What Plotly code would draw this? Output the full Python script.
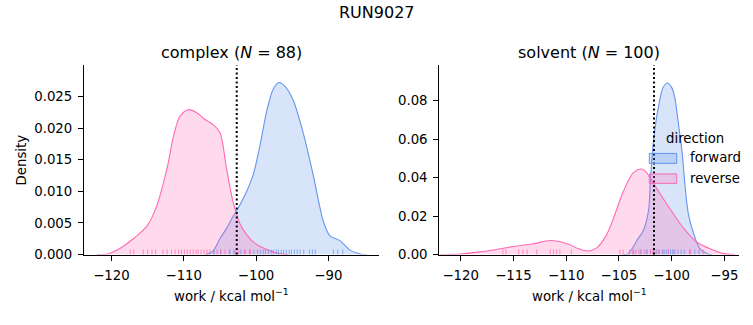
import plotly.graph_objects as go

# ---------------- data ----------------
# complex leg: KDE curves
cx_fwd_x = [-107.0, -106.0, -105.0, -104.0, -103.2, -102.7, -101.5, -100.4, -99.5, -98.5, -97.6, -96.8,
            -96.0, -94.9, -93.5, -92.1, -90.7, -89.8, -88.4, -87.0, -85.6, -84.7]
cx_fwd_y = [0.0, 0.0005, 0.0025, 0.0043, 0.0060, 0.0069, 0.0095, 0.0126, 0.0170, 0.0228, 0.0262, 0.0272,
            0.0266, 0.0245, 0.0193, 0.0126, 0.0053, 0.0030, 0.0022, 0.0007, 0.0001, 0.0]
cx_rev_x = [-122.0, -120.5, -119.8, -118.5, -117.0, -115.1, -113.8, -112.3, -111.4, -110.5, -109.3, -108.2,
            -107.0, -106.0, -105.0, -104.1, -103.2, -102.2, -101.2, -100.4, -99.3, -98.5, -97.0, -95.5]
cx_rev_y = [0.0, 0.0001, 0.0004, 0.0012, 0.0025, 0.0045, 0.0075, 0.0137, 0.0188, 0.0219, 0.0229, 0.0224,
            0.0213, 0.0206, 0.0193, 0.0137, 0.0084, 0.0048, 0.0030, 0.0020, 0.0012, 0.0008, 0.0002, 0.0]

# solvent leg
sv_fwd_x = [-104.6, -104.1, -103.3, -102.7, -102.2, -102.0, -101.7, -101.2, -100.8, -100.4, -100.0, -99.7,
            -99.4, -99.0, -98.7, -98.4, -97.9, -97.3, -96.5, -96.2]
sv_fwd_y = [0.0, 0.0005, 0.0073, 0.0123, 0.0225, 0.0394, 0.0600, 0.0783, 0.0870, 0.0893, 0.0870, 0.0817,
            0.0699, 0.0529, 0.0343, 0.0208, 0.0107, 0.0030, 0.0002, 0.0]
sv_rev_x = [-122.0, -120.0, -118.2, -116.5, -115.0, -113.1, -111.5, -109.9, -108.8, -108.0, -107.1, -106.2,
            -105.5, -104.6, -103.6, -102.8, -102.4, -101.4, -100.2, -98.9, -97.6, -96.0, -95.1, -94.0]
sv_rev_y = [0.0, 0.0003, 0.0014, 0.0028, 0.0042, 0.0056, 0.0073, 0.0056, 0.0030, 0.0019, 0.0035, 0.0100,
            0.0190, 0.0326, 0.0428, 0.0445, 0.0428, 0.0343, 0.0242, 0.0140, 0.0064, 0.0022, 0.0005, 0.0]

# individual work values (rug)
cx_fwd_rug = [-105.8, -104.9, -103.6, -102.9, -102.1, -101.5, -100.9, -100.3, -99.8, -99.4, -99.0, -98.7,
              -98.3, -97.9, -97.6, -97.2, -96.9, -96.5, -96.2, -95.8, -95.4, -95.1, -94.7, -94.3, -93.9,
              -93.4, -92.6, -92.2, -91.8, -89.3, -88.7, -88.0]
cx_rev_rug = [-117.4, -116.9, -115.6, -115.0, -114.4, -113.9, -112.9, -112.3, -111.7, -111.2, -110.7,
              -110.3, -109.9, -109.5, -109.1, -108.7, -108.3, -108.0, -107.6, -107.2, -106.8, -106.4,
              -105.9, -105.4, -104.9, -104.3, -103.7, -103.1, -102.4, -101.6, -100.8]
sv_fwd_rug = [-103.6, -102.9, -102.4, -102.0, -101.7, -101.4, -101.2, -100.9, -100.7, -100.5, -100.3,
              -100.1, -99.9, -99.7, -99.4, -99.1, -98.8, -98.3, -97.8, -97.4]
sv_rev_rug = [-116.0, -115.7, -114.5, -114.1, -113.7, -112.8, -111.5, -111.2, -110.9, -110.6, -109.5,
              -104.9, -104.6, -104.0, -103.7, -103.4, -103.1, -102.9, -102.6, -102.3, -102.0, -101.8,
              -101.5, -101.2, -100.8, -100.3, -99.8, -98.2, -97.0]

# free-energy estimates (dotted lines)
cx_dg = -102.67
sv_dg = -101.67

panel_titles = ["complex (<i>N</i> = 88)", "solvent (<i>N</i> = 100)"]
suptitle = "RUN9027"
directions = ["forward", "reverse"]

# ---------------- style ----------------
W, H = 753, 325
FONT = "DejaVu Sans"
BLUE = "#6495ED"
PINK = "#FF69B4"
BLUE_FILL = "rgba(100,149,237,0.25)"
PINK_FILL = "rgba(255,105,180,0.25)"
colors = {"forward": (BLUE, BLUE_FILL), "reverse": (PINK, PINK_FILL)}


def px_x(p):
    return p / W


def px_y(p):
    return 1 - p / H


fig = go.Figure()

panels = [
    ("x", "y", {"forward": (cx_fwd_x, cx_fwd_y, cx_fwd_rug), "reverse": (cx_rev_x, cx_rev_y, cx_rev_rug)}, cx_dg),
    ("x2", "y2", {"forward": (sv_fwd_x, sv_fwd_y, sv_fwd_rug), "reverse": (sv_rev_x, sv_rev_y, sv_rev_rug)}, sv_dg),
]

shapes = []
for xa, ya, series, dg in panels:
    for d in directions:
        xs, ys, rug = series[d]
        lc, fc = colors[d]
        fig.add_trace(go.Scatter(x=xs, y=ys, xaxis=xa, yaxis=ya, mode="lines",
                                 line=dict(color=lc, width=1.1, shape="spline", smoothing=0.9),
                                 fill="tozeroy", fillcolor=fc, showlegend=False, hoverinfo="skip"))
    for d in directions:
        xs, ys, rug = series[d]
        lc, fc = colors[d]
        for v in rug:
            shapes.append(dict(type="line", xref=xa, yref=ya + " domain", x0=v, x1=v, y0=0, y1=0.027,
                               line=dict(color=lc, width=1.1), opacity=0.65, layer="above"))
    shapes.append(dict(type="line", xref=xa, yref=ya + " domain", x0=dg, x1=dg, y0=0, y1=1,
                       line=dict(color="black", width=2, dash="2px,2.5px"), layer="above"))

# legend patches (manual, matplotlib style)
leg_x0, leg_x1 = 649.3, 676.7
shapes.append(dict(type="rect", xref="paper", yref="paper", x0=px_x(leg_x0), x1=px_x(leg_x1),
                   y0=px_y(167.5), y1=px_y(157.3), fillcolor=BLUE_FILL, line=dict(color=BLUE, width=1)))
shapes.append(dict(type="rect", xref="paper", yref="paper", x0=px_x(leg_x0), x1=px_x(leg_x1),
                   y0=px_y(188.0), y1=px_y(178.3), fillcolor=PINK_FILL, line=dict(color=PINK, width=1)))

tick_font = dict(family=FONT, size=13.3, color="black")
axis_common = dict(showgrid=False, zeroline=False, showline=True, linecolor="black", linewidth=1.1,
                   ticks="outside", ticklen=5, tickwidth=1.1, tickcolor="black", tickfont=tick_font,
                   ticklabelstandoff=3, fixedrange=True)

ydom = [px_y(261), px_y(66.7)]
fig.update_layout(
    width=W, height=H, margin=dict(l=0, r=0, t=0, b=0),
    paper_bgcolor="white", plot_bgcolor="white", showlegend=False,
    xaxis=dict(domain=[px_x(84), px_x(379.3)], range=[-123.8, -82.95], dtick=10, anchor="y", **axis_common),
    yaxis=dict(domain=ydom, range=[0, 0.02995], dtick=0.005, tickformat=".3f", anchor="x", **axis_common),
    xaxis2=dict(domain=[px_x(439.3), px_x(739.3)], range=[-122.03, -93.58], dtick=5, anchor="y2", **axis_common),
    yaxis2=dict(domain=ydom, range=[0, 0.0986], dtick=0.02, tickformat=".2f", anchor="x2", **axis_common),
    shapes=shapes,
)

ann = []
title_font = dict(family=FONT, size=16, color="black")
label_font = dict(family=FONT, size=13.3, color="black")
ann.append(dict(text=suptitle, x=0.5, y=px_y(12.5), font=title_font))
ann.append(dict(text=panel_titles[0], x=px_x((84 + 379.3) / 2), y=px_y(54), font=title_font))
ann.append(dict(text=panel_titles[1], x=px_x((439.3 + 739.3) / 2), y=px_y(54), font=title_font))
ann.append(dict(text="work / kcal mol<sup>−1</sup>", x=px_x((84 + 379.3) / 2), y=px_y(302), font=label_font))
ann.append(dict(text="work / kcal mol<sup>−1</sup>", x=px_x((439.3 + 739.3) / 2), y=px_y(302), font=label_font))
ann.append(dict(text="Density", x=px_x(21.5), y=px_y(164), textangle=-90, font=label_font))
ann.append(dict(text="direction", x=px_x(694.5), y=px_y(141.5), font=label_font))
ann.append(dict(text=directions[0], x=px_x(688.3), y=px_y(161.5), xanchor="left", font=label_font))
ann.append(dict(text=directions[1], x=px_x(688.3), y=px_y(182.5), xanchor="left", font=label_font))
for a in ann:
    a.setdefault("xanchor", "center")
    a.update(xref="paper", yref="paper", yanchor="middle", showarrow=False)
fig.update_layout(annotations=ann)

fig.write_html("out.html", config={"displayModeBar": False})
